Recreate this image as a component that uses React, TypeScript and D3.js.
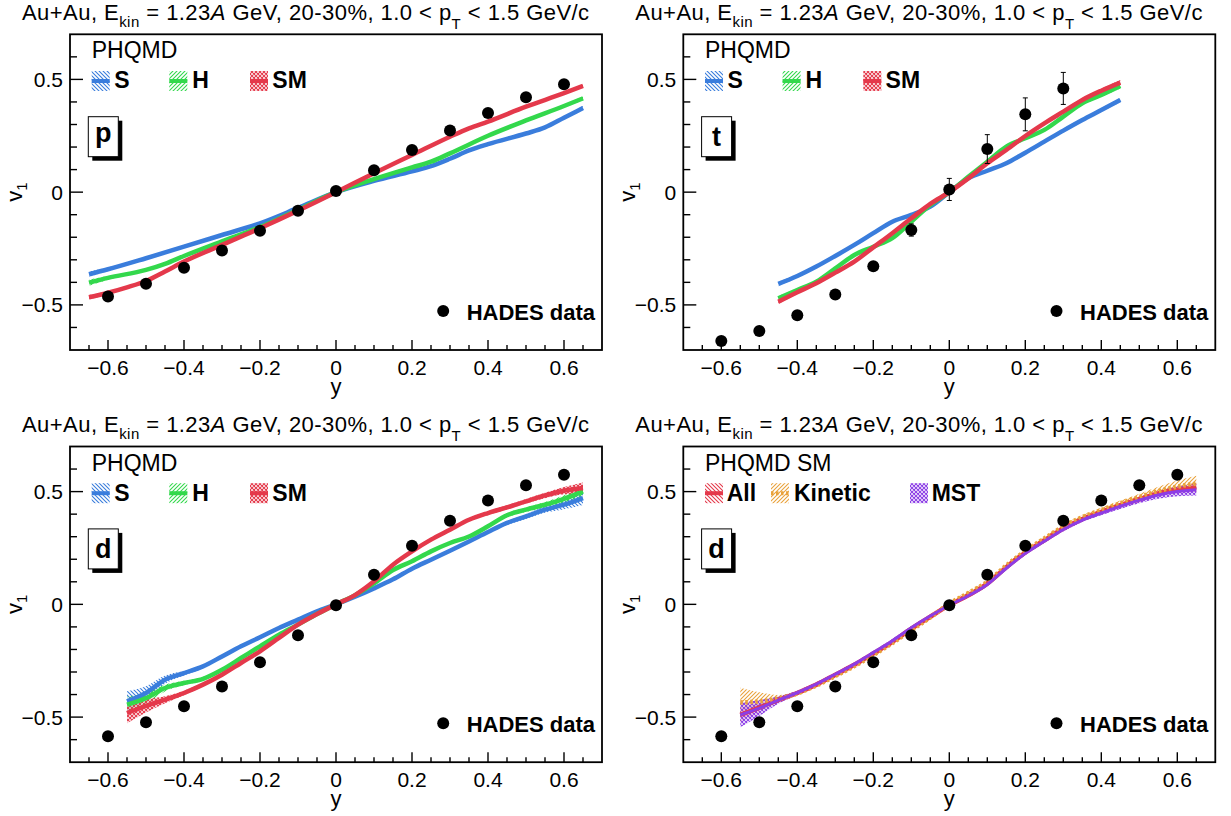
import React from "react";
import * as d3 from "d3";

// ---------------- data ----------------
type Pt = [number, number, number]; // rapidity y, v1, band half-width

// proton (p) PHQMD curves
const protonS: Pt[] = [
  [-0.65, -0.364, 0.012], [-0.6, -0.342, 0.008], [-0.5, -0.293, 0.006], [-0.4, -0.242, 0.006],
  [-0.3, -0.19, 0.005], [-0.2, -0.138, 0.005], [-0.1, -0.07, 0.005], [0, 0, 0.005],
  [0.1, 0.05, 0.005], [0.2, 0.092, 0.005], [0.25, 0.115, 0.005], [0.3, 0.148, 0.005],
  [0.35, 0.185, 0.005], [0.4, 0.213, 0.006], [0.5, 0.26, 0.006], [0.55, 0.287, 0.006],
  [0.6, 0.33, 0.007], [0.65, 0.373, 0.009],
];
const protonH: Pt[] = [
  [-0.65, -0.401, 0.014], [-0.6, -0.38, 0.008], [-0.5, -0.345, 0.006], [-0.45, -0.318, 0.006],
  [-0.4, -0.283, 0.006], [-0.3, -0.218, 0.005], [-0.2, -0.155, 0.005], [-0.1, -0.078, 0.005],
  [0, 0, 0.005], [0.1, 0.058, 0.005], [0.2, 0.11, 0.005], [0.25, 0.135, 0.005],
  [0.3, 0.172, 0.005], [0.4, 0.25, 0.006], [0.5, 0.318, 0.006], [0.6, 0.382, 0.007],
  [0.65, 0.416, 0.008],
];
const protonSM: Pt[] = [
  [-0.65, -0.466, 0.01], [-0.6, -0.446, 0.007], [-0.55, -0.422, 0.006], [-0.5, -0.394, 0.006],
  [-0.45, -0.352, 0.006], [-0.4, -0.308, 0.005], [-0.3, -0.234, 0.005], [-0.2, -0.16, 0.005],
  [-0.1, -0.082, 0.005], [0, 0, 0.005], [0.1, 0.084, 0.005], [0.2, 0.165, 0.005],
  [0.3, 0.246, 0.005], [0.35, 0.283, 0.005], [0.4, 0.313, 0.005], [0.5, 0.379, 0.006],
  [0.6, 0.439, 0.006], [0.65, 0.471, 0.007],
];

// triton (t) PHQMD curves
const tritonS: Pt[] = [
  [-0.45, -0.407, 0.01], [-0.4, -0.372, 0.008], [-0.35, -0.33, 0.007], [-0.3, -0.283, 0.006],
  [-0.25, -0.234, 0.006], [-0.2, -0.182, 0.006], [-0.15, -0.131, 0.006], [-0.1, -0.101, 0.005],
  [-0.05, -0.064, 0.005], [0, 0, 0.005], [0.05, 0.061, 0.005], [0.1, 0.095, 0.005],
  [0.15, 0.128, 0.006], [0.2, 0.175, 0.006], [0.25, 0.224, 0.006], [0.3, 0.273, 0.006],
  [0.35, 0.32, 0.007], [0.4, 0.364, 0.008], [0.45, 0.409, 0.01],
];
const tritonH: Pt[] = [
  [-0.45, -0.471, 0.01], [-0.4, -0.434, 0.008], [-0.35, -0.397, 0.008], [-0.3, -0.338, 0.007],
  [-0.25, -0.279, 0.007], [-0.2, -0.242, 0.007], [-0.15, -0.204, 0.007], [-0.1, -0.131, 0.006],
  [-0.05, -0.057, 0.006], [0, 0, 0.006], [0.05, 0.068, 0.006], [0.1, 0.135, 0.007],
  [0.15, 0.202, 0.007], [0.2, 0.239, 0.007], [0.25, 0.276, 0.007], [0.3, 0.335, 0.008],
  [0.35, 0.394, 0.008], [0.4, 0.431, 0.009], [0.45, 0.471, 0.011],
];
const tritonSM: Pt[] = [
  [-0.45, -0.486, 0.01], [-0.4, -0.444, 0.008], [-0.35, -0.404, 0.008], [-0.3, -0.357, 0.007],
  [-0.25, -0.308, 0.007], [-0.2, -0.245, 0.007], [-0.15, -0.182, 0.006], [-0.1, -0.116, 0.006],
  [-0.05, -0.052, 0.006], [0, 0, 0.006], [0.05, 0.061, 0.006], [0.1, 0.128, 0.006],
  [0.15, 0.187, 0.007], [0.2, 0.249, 0.007], [0.25, 0.305, 0.007], [0.3, 0.357, 0.008],
  [0.35, 0.409, 0.008], [0.4, 0.45, 0.009], [0.45, 0.486, 0.011],
];

// deuteron (d) PHQMD curves
const deutS: Pt[] = [
  [-0.55, -0.43, 0.045], [-0.5, -0.393, 0.03], [-0.45, -0.334, 0.018], [-0.4, -0.305, 0.01],
  [-0.35, -0.275, 0.008], [-0.3, -0.231, 0.007], [-0.25, -0.186, 0.006], [-0.2, -0.146, 0.006],
  [-0.15, -0.105, 0.006], [-0.1, -0.068, 0.006], [-0.05, -0.031, 0.006], [0, 0, 0.006],
  [0.05, 0.034, 0.006], [0.1, 0.071, 0.006], [0.15, 0.111, 0.006], [0.2, 0.158, 0.006],
  [0.25, 0.198, 0.006], [0.3, 0.238, 0.007], [0.35, 0.279, 0.007], [0.4, 0.321, 0.008],
  [0.45, 0.361, 0.009], [0.5, 0.39, 0.011], [0.55, 0.42, 0.014], [0.6, 0.442, 0.02],
  [0.65, 0.471, 0.03],
];
const deutH: Pt[] = [
  [-0.55, -0.445, 0.035], [-0.5, -0.416, 0.025], [-0.45, -0.371, 0.015], [-0.4, -0.349, 0.01],
  [-0.35, -0.33, 0.008], [-0.3, -0.29, 0.007], [-0.25, -0.238, 0.006], [-0.2, -0.186, 0.006],
  [-0.15, -0.135, 0.006], [-0.1, -0.09, 0.006], [-0.05, -0.043, 0.006], [0, 0, 0.006],
  [0.05, 0.041, 0.006], [0.1, 0.093, 0.006], [0.15, 0.152, 0.006], [0.2, 0.191, 0.006],
  [0.25, 0.235, 0.006], [0.3, 0.272, 0.007], [0.35, 0.301, 0.007], [0.4, 0.346, 0.008],
  [0.45, 0.395, 0.009], [0.5, 0.42, 0.01], [0.55, 0.442, 0.012], [0.6, 0.468, 0.016],
  [0.65, 0.501, 0.022],
];
const deutSM: Pt[] = [
  [-0.55, -0.482, 0.045], [-0.5, -0.45, 0.03], [-0.45, -0.423, 0.016], [-0.4, -0.393, 0.01],
  [-0.35, -0.356, 0.008], [-0.3, -0.312, 0.007], [-0.25, -0.26, 0.006], [-0.2, -0.208, 0.006],
  [-0.15, -0.149, 0.006], [-0.1, -0.09, 0.006], [-0.05, -0.043, 0.006], [0, 0, 0.006],
  [0.05, 0.041, 0.006], [0.1, 0.102, 0.006], [0.15, 0.176, 0.006], [0.2, 0.235, 0.006],
  [0.25, 0.287, 0.006], [0.3, 0.331, 0.007], [0.35, 0.375, 0.007], [0.4, 0.405, 0.008],
  [0.45, 0.43, 0.009], [0.5, 0.457, 0.01], [0.55, 0.483, 0.012], [0.6, 0.504, 0.016],
  [0.65, 0.516, 0.024],
];

// deuteron PHQMD SM: All / Kinetic / MST
const deutAll: Pt[] = [
  [-0.55, -0.49, 0.03], [-0.5, -0.458, 0.02], [-0.45, -0.424, 0.01], [-0.4, -0.393, 0.007],
  [-0.35, -0.356, 0.006], [-0.3, -0.312, 0.006], [-0.25, -0.268, 0.006], [-0.2, -0.218, 0.006],
  [-0.15, -0.166, 0.006], [-0.1, -0.108, 0.006], [-0.05, -0.055, 0.006], [0, -0.003, 0.006],
  [0.05, 0.04, 0.006], [0.1, 0.092, 0.006], [0.15, 0.165, 0.006], [0.2, 0.23, 0.006],
  [0.25, 0.284, 0.006], [0.3, 0.336, 0.007], [0.35, 0.378, 0.007], [0.4, 0.41, 0.008],
  [0.45, 0.44, 0.009], [0.5, 0.466, 0.01], [0.55, 0.492, 0.012], [0.6, 0.508, 0.015],
  [0.65, 0.518, 0.02],
];
const deutKinetic: Pt[] = [
  [-0.55, -0.435, 0.065], [-0.5, -0.43, 0.04], [-0.45, -0.418, 0.016], [-0.4, -0.395, 0.01],
  [-0.35, -0.36, 0.008], [-0.3, -0.318, 0.008], [-0.25, -0.274, 0.008], [-0.2, -0.225, 0.008],
  [-0.15, -0.172, 0.008], [-0.1, -0.115, 0.008], [-0.05, -0.058, 0.008], [0, 0.003, 0.008],
  [0.05, 0.05, 0.008], [0.1, 0.1, 0.008], [0.15, 0.172, 0.008], [0.2, 0.237, 0.008],
  [0.25, 0.292, 0.008], [0.3, 0.345, 0.009], [0.35, 0.387, 0.009], [0.4, 0.418, 0.01],
  [0.45, 0.448, 0.012], [0.5, 0.476, 0.015], [0.55, 0.502, 0.02], [0.6, 0.522, 0.027],
  [0.65, 0.535, 0.035],
];
const deutMST: Pt[] = [
  [-0.55, -0.49, 0.055], [-0.5, -0.46, 0.035], [-0.45, -0.425, 0.016], [-0.4, -0.392, 0.01],
  [-0.35, -0.354, 0.008], [-0.3, -0.31, 0.008], [-0.25, -0.265, 0.008], [-0.2, -0.214, 0.008],
  [-0.15, -0.162, 0.008], [-0.1, -0.104, 0.008], [-0.05, -0.052, 0.008], [0, -0.004, 0.008],
  [0.05, 0.038, 0.008], [0.1, 0.088, 0.008], [0.15, 0.16, 0.008], [0.2, 0.226, 0.008],
  [0.25, 0.28, 0.008], [0.3, 0.332, 0.009], [0.35, 0.374, 0.009], [0.4, 0.405, 0.01],
  [0.45, 0.435, 0.012], [0.5, 0.462, 0.014], [0.55, 0.485, 0.017], [0.6, 0.5, 0.021],
  [0.65, 0.508, 0.025],
];

// HADES data
const hadesProtonY = [-0.6, -0.5, -0.4, -0.3, -0.2, -0.1, 0, 0.1, 0.2, 0.3, 0.4, 0.5, 0.6];
const hadesProtonV = [-0.463, -0.406, -0.335, -0.259, -0.171, -0.083, 0.005, 0.097, 0.187, 0.273, 0.351, 0.421, 0.478];
const hadesProtonErr = [0.005, 0.005, 0.005, 0.005, 0.005, 0.005, 0.005, 0.005, 0.005, 0.005, 0.005, 0.005, 0.005];

const hadesTritonY = [-0.6, -0.5, -0.4, -0.3, -0.2, -0.1, 0, 0.1, 0.2, 0.3];
const hadesTritonV = [-0.66, -0.616, -0.546, -0.454, -0.329, -0.168, 0.012, 0.191, 0.345, 0.46];
const hadesTritonErr = [0.012, 0.012, 0.014, 0.015, 0.018, 0.027, 0.049, 0.064, 0.073, 0.071];

const hadesDeutY = [-0.6, -0.5, -0.4, -0.3, -0.2, -0.1, 0, 0.1, 0.2, 0.3, 0.4, 0.5, 0.6];
const hadesDeutV = [-0.585, -0.523, -0.452, -0.364, -0.257, -0.137, -0.004, 0.131, 0.26, 0.371, 0.461, 0.528, 0.575];
const hadesDeutErr = [0.008, 0.008, 0.008, 0.008, 0.008, 0.008, 0.008, 0.008, 0.008, 0.008, 0.008, 0.008, 0.008];

// axes
const xMajorTicks = [-0.6, -0.4, -0.2, 0, 0.2, 0.4, 0.6];
const xMinorTicks = [-0.65, -0.55, -0.5, -0.45, -0.35, -0.3, -0.25, -0.15, -0.1, -0.05, 0.05, 0.1, 0.15, 0.25, 0.3, 0.35, 0.45, 0.5, 0.55, 0.65];
const yMajorTicks = [-0.5, 0, 0.5];
const yMinorTicks = [-0.6, -0.4, -0.3, -0.2, -0.1, 0.1, 0.2, 0.3, 0.4, 0.6];
const axisDomain = [-0.7, 0.7];

// ---------------- styling ----------------
const FONT = "'Liberation Sans', Arial, Helvetica, sans-serif";
const PW = 532;
const PH = 315.7;
const LEFTS = [70, 683.3];
const TOPS = [34.3, 446.5];

const C = {
  blue: "#3a7ddc",
  green: "#33d84c",
  red: "#e4394b",
  orange: "#e9a23b",
  purple: "#8c3de6",
};

type Series = { data: Pt[]; color: string; pattern: string; dash?: string; width?: number };
type LegendItem = { label: string; color: string; pattern: string; dash?: string; swatchX: number; labelX: number; noLine?: boolean };
type PanelCfg = {
  col: number; row: number; box: string; header: string;
  series: Series[]; legend: LegendItem[];
  hy: number[]; hv: number[]; he: number[]; showErr: boolean;
};

const stdLegend = (a: string, b: string, c: string): LegendItem[] => [
  { label: "S", color: C.blue, pattern: a, swatchX: 21.7, labelX: 44.3 },
  { label: "H", color: C.green, pattern: b, swatchX: 99.3, labelX: 122.3 },
  { label: "SM", color: C.red, pattern: c, swatchX: 180, labelX: 202.3 },
];

const panels: PanelCfg[] = [
  {
    col: 0, row: 0, box: "p", header: "PHQMD",
    series: [
      { data: protonS, color: C.blue, pattern: "pBlue" },
      { data: protonH, color: C.green, pattern: "pGreen" },
      { data: protonSM, color: C.red, pattern: "pRedX" },
    ],
    legend: stdLegend("pBlue", "pGreen", "pRedX"),
    hy: hadesProtonY, hv: hadesProtonV, he: hadesProtonErr, showErr: false,
  },
  {
    col: 1, row: 0, box: "t", header: "PHQMD",
    series: [
      { data: tritonS, color: C.blue, pattern: "pBlue" },
      { data: tritonH, color: C.green, pattern: "pGreen" },
      { data: tritonSM, color: C.red, pattern: "pRedX" },
    ],
    legend: stdLegend("pBlue", "pGreen", "pRedX"),
    hy: hadesTritonY, hv: hadesTritonV, he: hadesTritonErr, showErr: true,
  },
  {
    col: 0, row: 1, box: "d", header: "PHQMD",
    series: [
      { data: deutS, color: C.blue, pattern: "pBlue" },
      { data: deutH, color: C.green, pattern: "pGreen" },
      { data: deutSM, color: C.red, pattern: "pRedX" },
    ],
    legend: stdLegend("pBlue", "pGreen", "pRedX"),
    hy: hadesDeutY, hv: hadesDeutV, he: hadesDeutErr, showErr: false,
  },
  {
    col: 1, row: 1, box: "d", header: "PHQMD SM",
    series: [
      { data: deutAll, color: C.red, pattern: "pRedB" },
      { data: deutKinetic, color: C.orange, pattern: "pOrange", dash: "2.5,2.5" },
      { data: deutMST, color: C.purple, pattern: "pPurple", width: 3 },
    ],
    legend: [
      { label: "All", color: C.red, pattern: "pRedB", swatchX: 21.7, labelX: 43.4 },
      { label: "Kinetic", color: C.orange, pattern: "pOrange", dash: "2.5,2.5", swatchX: 87.7, labelX: 110.7 },
      { label: "MST", color: C.purple, pattern: "pPurple", swatchX: 226.7, labelX: 248.4, noLine: true },
    ],
    hy: hadesDeutY, hv: hadesDeutV, he: hadesDeutErr, showErr: false,
  },
];

const fmt = (v: number) => (Math.abs(v) < 1e-9 ? "0" : (v < 0 ? "\u2212" : "") + Math.abs(v).toFixed(1));

const BACK = "M0,0L4,4M-1,3L1,5M3,-1L5,1";
const FWD = "M0,4L4,0M-1,1L1,-1M3,5L5,3";

function Defs() {
  const pat = (id: string, color: string, d: string) => (
    <pattern key={id} id={id} width={4} height={4} patternUnits="userSpaceOnUse">
      <path d={d} stroke={color} strokeWidth={1.1} fill="none" />
    </pattern>
  );
  return (
    <defs>
      {pat("pBlue", C.blue, BACK)}
      {pat("pGreen", C.green, FWD)}
      {pat("pRedX", C.red, BACK + FWD)}
      {pat("pRedB", C.red, BACK)}
      {pat("pOrange", C.orange, FWD)}
      {pat("pPurple", C.purple, BACK + FWD)}
    </defs>
  );
}

function Title({ x, y }: { x: number; y: number }) {
  return (
    <text x={x} y={y} fontSize={22} letterSpacing={0.45} fontFamily={FONT} fill="#000">
      {"Au+Au, E"}
      <tspan fontSize={15} dy={7}>{"kin"}</tspan>
      <tspan dy={-7}>{" = 1.23"}</tspan>
      <tspan fontStyle="italic">{"A"}</tspan>
      <tspan>{" GeV, 20-30%, 1.0 < p"}</tspan>
      <tspan fontSize={15} dy={9}>{"T"}</tspan>
      <tspan dy={-9}>{" < 1.5 GeV/c"}</tspan>
    </text>
  );
}

function Panel({ cfg }: { cfg: PanelCfg }) {
  const L = LEFTS[cfg.col];
  const T = TOPS[cfg.row];
  const x = d3.scaleLinear().domain(axisDomain).range([L, L + PW]);
  const y = d3.scaleLinear().domain(axisDomain).range([T + PH, T]);
  const area = d3.area<Pt>().x((d) => x(d[0])).y0((d) => y(d[1] - d[2])).y1((d) => y(d[1] + d[2])).curve(d3.curveMonotoneX);
  const line = d3.line<Pt>().x((d) => x(d[0])).y((d) => y(d[1])).curve(d3.curveMonotoneX);
  const B = T + PH;
  const boxX = L + 18.3;
  const boxY = T + 82.4;
  const hasDesc = /[gjpqy]/.test(cfg.box);
  return (
    <g>
      <Title x={L - 48} y={T - 14.5} />
      {/* bands */}
      {cfg.series.map((s, i) => (
        <path key={"a" + i} d={area(s.data) || ""} fill={`url(#${s.pattern})`} stroke="none" />
      ))}
      {/* lines */}
      {cfg.series.map((s, i) => (
        <path key={"l" + i} d={line(s.data) || ""} fill="none" stroke={s.color} strokeWidth={s.width ?? 4.5}
          strokeDasharray={s.dash} strokeLinejoin="round" />
      ))}
      {/* HADES points */}
      {cfg.hy.map((yy, i) => (
        <g key={"h" + i}>
          {cfg.showErr && (
            <g stroke="#000" strokeWidth={1}>
              <line x1={x(yy)} x2={x(yy)} y1={y(cfg.hv[i] - cfg.he[i])} y2={y(cfg.hv[i] + cfg.he[i])} />
              <line x1={x(yy) - 2.5} x2={x(yy) + 2.5} y1={y(cfg.hv[i] - cfg.he[i])} y2={y(cfg.hv[i] - cfg.he[i])} />
              <line x1={x(yy) - 2.5} x2={x(yy) + 2.5} y1={y(cfg.hv[i] + cfg.he[i])} y2={y(cfg.hv[i] + cfg.he[i])} />
            </g>
          )}
          <circle cx={x(yy)} cy={y(cfg.hv[i])} r={6} fill="#000" />
        </g>
      ))}
      {/* frame */}
      <rect x={L} y={T} width={PW} height={PH} fill="none" stroke="#000" strokeWidth={1.8} />
      {/* ticks */}
      <g stroke="#000" strokeWidth={1.4}>
        {xMajorTicks.map((t) => <line key={"xM" + t} x1={x(t)} x2={x(t)} y1={B} y2={B - 10} />)}
        {xMinorTicks.map((t) => <line key={"xm" + t} x1={x(t)} x2={x(t)} y1={B} y2={B - 5} />)}
        {yMajorTicks.map((t) => <line key={"yM" + t} x1={L} x2={L + 13} y1={y(t)} y2={y(t)} />)}
        {yMinorTicks.map((t) => <line key={"ym" + t} x1={L} x2={L + 7} y1={y(t)} y2={y(t)} />)}
      </g>
      <g fontFamily={FONT} fontSize={21} fill="#000">
        {xMajorTicks.map((t) => (
          <text key={"xl" + t} x={x(t)} y={B + 25} textAnchor="middle">{fmt(t)}</text>
        ))}
        {yMajorTicks.map((t) => (
          <text key={"yl" + t} x={L - 7} y={y(t) + 7.5} textAnchor="end">{fmt(t)}</text>
        ))}
      </g>
      {/* axis titles */}
      <text x={L + PW / 2} y={B + 44} fontFamily={FONT} fontSize={22} textAnchor="middle">y</text>
      <text transform={`translate(${L - 48},${T + PH / 2}) rotate(-90)`} fontFamily={FONT} fontSize={22} textAnchor="middle">
        v<tspan fontSize={15} dy={5}>1</tspan>
      </text>
      {/* header + legend */}
      <text x={L + 21.7} y={T + 24} fontFamily={FONT} fontSize={23}>{cfg.header}</text>
      {cfg.legend.map((it) => (
        <g key={it.label}>
          <rect x={L + it.swatchX} y={T + 36.7} width={18} height={20} fill={`url(#${it.pattern})`} />
          {!it.noLine && (
            <line x1={L + it.swatchX} x2={L + it.swatchX + 18} y1={T + 46.7} y2={T + 46.7}
              stroke={it.color} strokeWidth={4} strokeDasharray={it.dash} />
          )}
          <text x={L + it.labelX} y={T + 54} fontFamily={FONT} fontSize={23} fontWeight="bold">{it.label}</text>
        </g>
      ))}
      {/* particle box */}
      <rect x={boxX + 4} y={boxY + 4} width={30} height={40} fill="#000" />
      <rect x={boxX} y={boxY} width={30} height={40} fill="#fff" stroke="#000" strokeWidth={1} />
      <text x={boxX + 15} y={boxY + 20 + (hasDesc ? 5 : 9.5)} fontFamily={FONT} fontSize={27} fontWeight="bold" textAnchor="middle">{cfg.box}</text>
      {/* HADES legend */}
      <circle cx={L + 373.2} cy={T + 276.7} r={6} fill="#000" />
      <text x={L + 396.7} y={T + 285.7} fontFamily={FONT} fontSize={22} fontWeight="bold">HADES data</text>
    </g>
  );
}

export default function App() {
  return (
    <svg width={1231} height={816} viewBox="0 0 1231 816"
      style={{ position: "absolute", left: 0, top: 0, background: "#fff", display: "block" }}>
      <rect x={0} y={0} width={1231} height={816} fill="#fff" />
      <Defs />
      {panels.map((p, i) => <Panel key={i} cfg={p} />)}
    </svg>
  );
}
